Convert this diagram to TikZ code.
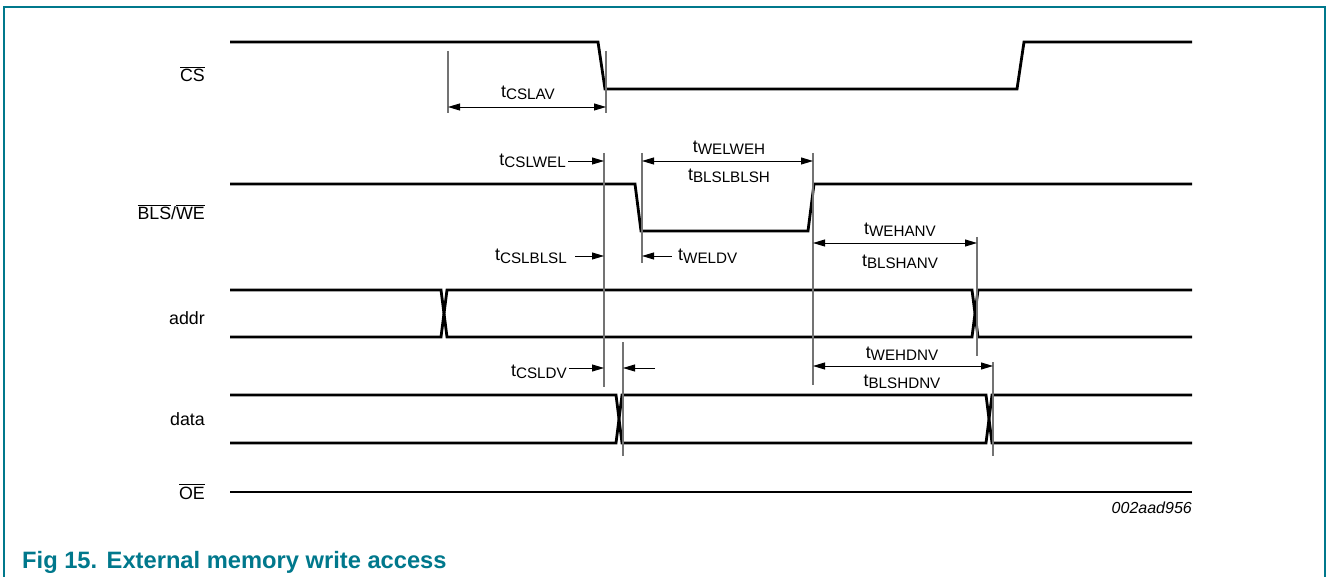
\documentclass[tikz,border=0pt]{standalone}
\usepackage{fontspec}
\setmainfont{Liberation Sans}
\usetikzlibrary{arrows.meta}
\definecolor{nxp}{RGB}{0,120,140}
\newcommand\ovl[1]{\leavevmode\vbox{\hrule height 1.2pt\kern 1.6pt\hbox{#1}}}
\newcommand\tm[1]{t\raisebox{-2pt}{\fontsize{15.2}{16}\selectfont #1}}
\begin{document}
\begin{tikzpicture}[x=1pt,y=-1pt,
  sig/.style={line width=2.8pt},
  guide/.style={line width=1.3pt, draw=black!55},
  dim/.style={line width=0.9pt, {Triangle[length=12pt,width=7pt]}-{Triangle[length=12pt,width=7pt]}},
  dimr/.style={line width=0.9pt, -{Triangle[length=12pt,width=7pt]}},
  lab/.style={font=\fontsize{17.8}{20}\selectfont, inner sep=0pt},
  tlab/.style={lab, anchor=base},
  siglab/.style={lab, anchor=base east}
]
\useasboundingbox (0,0) rectangle (1327,577);
% frame
\draw[nxp, line width=2pt] (4,577) -- (4,7) -- (1325,7) -- (1325,577);

% signal labels
\node[siglab] (lcs) at (205,82) {\ovl{CS}};
\node[siglab] (lbls) at (205,220) {\ovl{BLS}/\ovl{WE}};
\node[siglab] (laddr) at (205,324) {addr};
\node[siglab] (ldata) at (205,425) {data};
\node[siglab] (loe) at (205,499) {\ovl{OE}};

% waveforms
\draw[sig] (230,42) -- (598,42) -- (605,89) -- (1017,89) -- (1024,42) -- (1192,42);
\draw[sig] (230,184) -- (635,184) -- (641,231) -- (808,231) -- (814,184) -- (1192,184);
\draw[sig] (230,290) -- (441,290) -- (447,337) -- (972,337) -- (978,290) -- (1192,290);
\draw[sig] (230,337) -- (441,337) -- (447,290) -- (972,290) -- (978,337) -- (1192,337);
\draw[sig] (230,395) -- (616,395) -- (622,443) -- (986,443) -- (992,395) -- (1192,395);
\draw[sig] (230,443) -- (616,443) -- (622,395) -- (986,395) -- (992,443) -- (1192,443);
\draw[sig] (230,492) -- (1192,492);

% guide lines
\coordinate (g1t) at (448,51);  \coordinate (g1b) at (448,113);
\coordinate (g2t) at (606,51);  \coordinate (g2b) at (606,113);
\coordinate (g3t) at (604,153); \coordinate (g3b) at (604,387);
\coordinate (g4t) at (642,153); \coordinate (g4b) at (642,263);
\coordinate (g5t) at (813,153); \coordinate (g5b) at (813,385);
\coordinate (g6t) at (977,237); \coordinate (g6b) at (977,356);
\coordinate (g7t) at (623,342); \coordinate (g7b) at (623,456);
\coordinate (g8t) at (993,362); \coordinate (g8b) at (993,456);
\foreach \g in {1,...,8} \draw[guide] (g\g t) -- (g\g b);

% tCSLAV
\coordinate (a1) at (448,107); \coordinate (a2) at (606,107);
\draw[dim] (a1) -- (a2);
\node[tlab] (tcslav) at (528,98) {\tm{CSLAV}};

% tCSLWEL
\node[lab, anchor=base east] (tcslwel) at (566,166) {\tm{CSLWEL}};
\coordinate (b1) at (568,161); \coordinate (b2) at (604,161);
\draw[dimr] (b1) -- (b2);

% tWELWEH / tBLSLBLSH
\coordinate (c1) at (642,161); \coordinate (c2) at (813,161);
\draw[dim] (c1) -- (c2);
\node[tlab] (twelweh) at (729,153) {\tm{WELWEH}};
\node[tlab] (tblslblsh) at (729,181) {\tm{BLSLBLSH}};

% tCSLBLSL
\node[lab, anchor=base east] (tcslblsl) at (567,261) {\tm{CSLBLSL}};
\coordinate (d1) at (575,256); \coordinate (d2) at (604,256);
\draw[dimr] (d1) -- (d2);

% tWELDV
\coordinate (e1) at (672,256); \coordinate (e2) at (642,256);
\draw[dimr] (e1) -- (e2);
\node[lab, anchor=base west] (tweldv) at (678,261) {\tm{WELDV}};

% tWEHANV / tBLSHANV
\coordinate (f1) at (813,243); \coordinate (f2) at (977,243);
\draw[dim] (f1) -- (f2);
\node[tlab] (twehanv) at (900,235) {\tm{WEHANV}};
\node[tlab] (tblshanv) at (900,266) {\tm{BLSHANV}};

% tCSLDV
\node[lab, anchor=base east] (tcsldv) at (567,376) {\tm{CSLDV}};
\coordinate (h1) at (569,368); \coordinate (h2) at (604,368);
\draw[dimr] (h1) -- (h2);
\coordinate (h3) at (655,368); \coordinate (h4) at (623,368);
\draw[dimr] (h3) -- (h4);

% tWEHDNV / tBLSHDNV
\coordinate (k1) at (813,366); \coordinate (k2) at (993,366);
\draw[dim] (k1) -- (k2);
\node[tlab] (twehdnv) at (902,358) {\tm{WEHDNV}};
\node[tlab] (tblshdnv) at (902,386) {\tm{BLSHDNV}};

% id
\node[anchor=base east, inner sep=0pt, font=\fontsize{16}{18}\selectfont\itshape] (id) at (1192,513) {002aad956};

% caption
\node[anchor=base west, inner sep=0pt, text=nxp, font=\fontsize{23.7}{28}\selectfont\bfseries] (cap) at (22,568) {Fig 15.\hspace{0.4em}External memory write access};
\end{tikzpicture}
\end{document}
